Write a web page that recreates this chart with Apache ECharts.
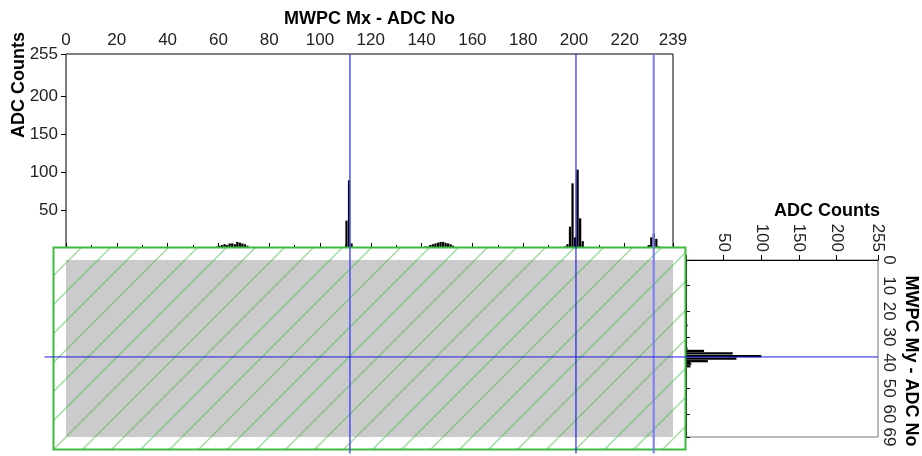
<!DOCTYPE html>
<html>
<head>
<meta charset="utf-8">
<script src="https://cdn.jsdelivr.net/npm/echarts@6/dist/echarts.min.js"></script>
<style>
  html, body { margin: 0; padding: 0; background: #fff; }
  #main { width: 922px; height: 456px; }
</style>
</head>
<body>
<div id="main"></div>
<script>
// MWPC Mx projection: channel -> ADC counts (empty channels left out)
var mxChannels = [58, 59, 60, 61, 62, 63, 64, 65, 66, 67, 68, 69, 70, 71, 72,
  94, 98, 110, 111, 112, 119, 124, 126, 127, 134, 139, 140, 141, 142,
  143, 144, 145, 146, 147, 148, 149, 150, 151, 152, 153,
  196, 197, 198, 199, 200, 201, 202, 203,
  229, 230, 231, 232, 233]
var mxCounts = [1, 2, 3, 4, 5, 4, 6, 6, 5, 8, 7, 6, 5, 3, 1,
  1, 1, 36, 89, 6, 1, 1, 1, 1, 1, 1, 1, 2, 2,
  4, 5, 6, 7, 8, 8, 7, 6, 5, 3, 1,
  2, 5, 28, 85, 14, 103, 39, 9,
  4, 14, 19, 12, 2]

// MWPC My projection: channel -> ADC counts
var myChannels = [25, 34, 35, 36, 37, 38, 39, 40, 41]
var myCounts = [2, 2, 24, 62, 100, 67, 29, 7, 6]

// tick labels
var mxTicks = [0, 20, 40, 60, 80, 100, 120, 140, 160, 180, 200, 220, 239]
var countTicks = [50, 100, 150, 200, 255]
var countTickMarks = [0, 50, 100, 150, 200, 255]
var myTicks = [0, 10, 20, 30, 40, 50, 60, 69]

// cursor positions (blue lines)
var mxCursors = [111.8, 200.8, 231.4]
var mxCursorColors = ['#4f4fff', '#0000f0', '#7b7bff']
var mxCursorWidths = [1.5, 1, 2]
var myCursors = [37.8]

var font = 'Liberation Sans, Arial, Helvetica, sans-serif'

var chart = echarts.init(document.getElementById('main'))

var option = {
  animation: false,
  backgroundColor: '#fff',
  grid: [
    { left: 66, top: 54, width: 607, height: 194, show: true, borderColor: '#000', borderWidth: 1, outerBoundsMode: 'none' },
    { left: 686, top: 260, width: 192, height: 177, show: true, borderColor: '#777', borderWidth: 1, outerBoundsMode: 'none' }
  ],
  xAxis: [
    {
      gridIndex: 0,
      type: 'value',
      position: 'top',
      min: 0,
      max: 239,
      interval: 20,
      name: 'MWPC Mx - ADC No',
      nameLocation: 'middle',
      nameGap: 26,
      nameTextStyle: { fontFamily: font, fontSize: 18, fontWeight: 'bold', color: '#000' },
      axisLine: { lineStyle: { color: '#000', width: 1 } },
      axisTick: { length: 5, lineStyle: { color: '#000' } },
      minorTick: { show: true, splitNumber: 2, length: 3, lineStyle: { color: '#000' } },
      axisLabel: { customValues: mxTicks, fontFamily: font, fontSize: 17, color: '#222', margin: 5 },
      splitLine: { show: false }
    },
    {
      gridIndex: 1,
      type: 'value',
      position: 'top',
      min: 0,
      max: 255,
      interval: 50,
      name: 'ADC Counts',
      nameLocation: 'middle',
      nameGap: 37,
      nameTextStyle: {
        fontFamily: font, fontSize: 18, fontWeight: 'bold', color: '#000',
        padding: [0, 0, 0, 90]
      },
      axisLine: { lineStyle: { color: '#000', width: 1 } },
      axisTick: { customValues: countTickMarks, length: 5, lineStyle: { color: '#000' } },
      axisLabel: { customValues: countTicks, rotate: -90, fontFamily: font, fontSize: 17, color: '#222', margin: 8 },
      splitLine: { show: false }
    }
  ],
  yAxis: [
    {
      gridIndex: 0,
      type: 'value',
      min: 0,
      max: 255,
      interval: 50,
      name: 'ADC Counts',
      nameLocation: 'middle',
      nameRotate: 90,
      nameGap: 38,
      nameMoveOverlap: false,
      nameTextStyle: {
        fontFamily: font, fontSize: 18, fontWeight: 'bold', color: '#000',
        padding: [0, 0, 0, 132]
      },
      axisLine: { show: true, lineStyle: { color: '#777', width: 1 } },
      axisTick: { show: true, customValues: countTickMarks, length: 5, lineStyle: { color: '#000' } },
      axisLabel: { customValues: countTicks, fontFamily: font, fontSize: 17, color: '#222', margin: 8 },
      splitLine: { show: false }
    },
    {
      gridIndex: 1,
      type: 'value',
      position: 'right',
      inverse: true,
      min: 0,
      max: 69,
      interval: 10,
      name: 'MWPC My - ADC No',
      nameLocation: 'middle',
      nameRotate: -90,
      nameGap: 24,
      nameTextStyle: {
        fontFamily: font, fontSize: 18, fontWeight: 'bold', color: '#000',
        padding: [0, 0, 0, 25]
      },
      axisLine: { show: true, lineStyle: { color: '#000', width: 1 } },
      axisTick: { show: true, length: 4, lineStyle: { color: '#000' } },
      axisLabel: { customValues: myTicks, rotate: -90, fontFamily: font, fontSize: 17, color: '#222', margin: 2 },
      splitLine: { show: false }
    }
  ],
  series: [
    {
      name: 'Mx',
      type: 'custom',
      xAxisIndex: 0,
      yAxisIndex: 0,
      encode: { x: 0, y: 1 },
      data: mxChannels.map(function (ch, i) { return [ch, mxCounts[i]] }),
      renderItem: function (params, api) {
        var a = api.coord([api.value(0), 0])
        var b = api.coord([api.value(0) + 1, api.value(1)])
        return {
          type: 'rect',
          shape: { x: a[0], y: b[1], width: b[0] - a[0] - 0.3, height: a[1] - b[1] },
          style: { fill: '#000' }
        }
      }
    },
    {
      name: 'My',
      type: 'custom',
      xAxisIndex: 1,
      yAxisIndex: 1,
      encode: { x: 0, y: 1 },
      data: myChannels.map(function (ch, i) { return [myCounts[i], ch] }),
      renderItem: function (params, api) {
        var a = api.coord([0, api.value(1)])
        var b = api.coord([api.value(0), api.value(1) + 1])
        return {
          type: 'rect',
          shape: { x: a[0], y: a[1], width: b[0] - a[0], height: b[1] - a[1] - 0.3 },
          style: { fill: '#000' }
        }
      }
    }
  ]
}

chart.setOption(option)

// hatch tile for the 2D map frame
var tile = document.createElement('canvas')
tile.width = 29
tile.height = 29
var tctx = tile.getContext('2d')
tctx.strokeStyle = '#3fb43f'
tctx.lineWidth = 1
tctx.beginPath()
tctx.moveTo(-1, 30); tctx.lineTo(30, -1)
tctx.moveTo(-2, 2); tctx.lineTo(2, -2)
tctx.moveTo(27, 31); tctx.lineTo(31, 27)
tctx.stroke()

var gx0 = chart.convertToPixel({ xAxisIndex: 0 }, 0)
var gx1 = chart.convertToPixel({ xAxisIndex: 0 }, 239)
var gy0 = chart.convertToPixel({ yAxisIndex: 1 }, 0)
var gy1 = chart.convertToPixel({ yAxisIndex: 1 }, 69)
var pad = 12.5
var bx0 = gx0 - pad, bx1 = gx1 + pad, by0 = gy0 - pad, by1 = gy1 + pad
var topY = chart.convertToPixel({ yAxisIndex: 0 }, 255)
var rightX = chart.convertToPixel({ xAxisIndex: 1 }, 255)

var graphics = [
  { type: 'rect', z: 10, shape: { x: bx0, y: by0, width: bx1 - bx0, height: by1 - by0 }, style: { fill: '#fff' } },
  { type: 'rect', z: 11, shape: { x: gx0, y: gy0, width: gx1 - gx0, height: gy1 - gy0 }, style: { fill: '#cbcbcb' } },
  { type: 'rect', z: 12, x: bx0, y: by1, shape: { x: 0, y: -(by1 - by0), width: bx1 - bx0, height: by1 - by0 },
    style: { fill: { image: tile, repeat: 'repeat' } } },
  { type: 'rect', z: 13, shape: { x: bx0, y: by0, width: bx1 - bx0, height: by1 - by0 },
    style: { fill: null, stroke: '#3dbb3d', lineWidth: 2 } }
]

mxCursors.forEach(function (v, i) {
  var px = chart.convertToPixel({ xAxisIndex: 0 }, v)
  graphics.push({
    type: 'line', z: 20,
    shape: { x1: px, y1: topY, x2: px, y2: by1 + 4 },
    style: { stroke: mxCursorColors[i], lineWidth: mxCursorWidths[i] }
  })
})
myCursors.forEach(function (v) {
  var py = chart.convertToPixel({ yAxisIndex: 1 }, v)
  graphics.push({
    type: 'line', z: 20,
    shape: { x1: bx0 - 9, y1: py, x2: rightX, y2: py },
    style: { stroke: '#1c1ce0', lineWidth: 1 }
  })
})

chart.setOption({ graphic: graphics })
</script>
</body>
</html>
